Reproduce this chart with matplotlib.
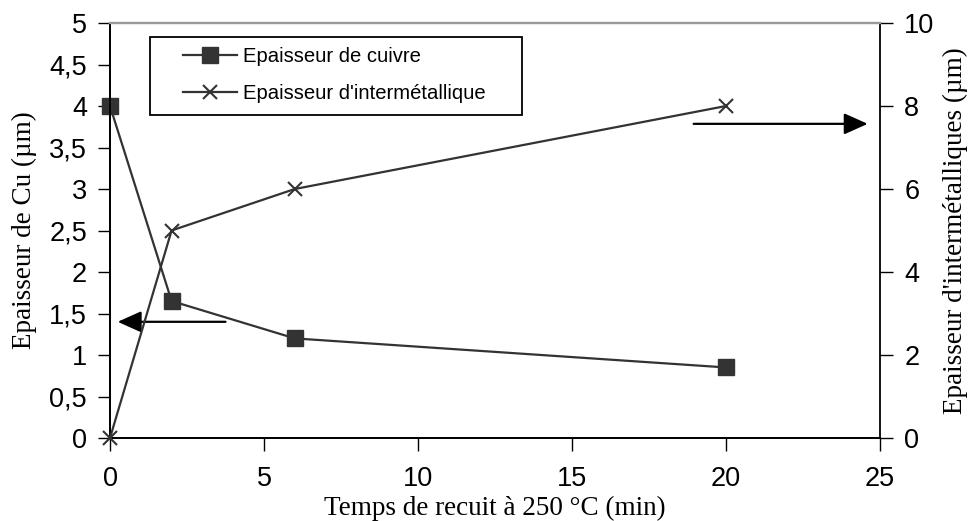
import matplotlib
matplotlib.use("Agg")
import matplotlib.pyplot as plt
from matplotlib.patches import Rectangle
from matplotlib.ticker import FuncFormatter, MultipleLocator

# Annealing time (min) and measured thicknesses
temps = [0, 2, 6, 20]
cuivre = [4, 1.65, 1.2, 0.85]
intermetallique = [0, 5, 6, 8]

# Arrow endpoints (x in min, y in each axis' units)
fleche_cu = ((3.75, 1.4), (0.25, 1.4))
fleche_imc = ((18.95, 7.57), (24.6, 7.57))

sans = "Liberation Sans"
serif = "Liberation Serif"
col = "#333333"

W, H = 974, 521
L, R, T, B = 110, 880, 23, 438

fig = plt.figure(figsize=(W / 100, H / 100), dpi=100)
ax = fig.add_axes([L / W, 1 - B / H, (R - L) / W, (B - T) / H])
ax2 = ax.twinx()

comma = FuncFormatter(lambda v, p: ("%g" % v).replace(".", ","))

l1, = ax.plot(temps, cuivre, color=col, lw=1.6, marker="s", ms=11, mfc=col, mec=col,
              label="Epaisseur de cuivre", clip_on=False, zorder=5)
l2, = ax2.plot(temps, intermetallique, color=col, lw=1.6, marker="x", ms=10.5, mew=1.5,
               label="Epaisseur d'intermétallique", clip_on=False, zorder=5)

ax.set_xlim(0, 25)
ax.set_ylim(0, 5)
ax2.set_ylim(0, 10)
ax.xaxis.set_major_locator(MultipleLocator(5))
ax.yaxis.set_major_locator(MultipleLocator(0.5))
ax2.yaxis.set_major_locator(MultipleLocator(2))
ax.yaxis.set_major_formatter(comma)

for a in (ax, ax2):
    for s in a.spines.values():
        s.set_color("black")
        s.set_linewidth(1.3)
    a.spines["top"].set_color("#9a9a9a")
    a.spines["top"].set_linewidth(1.6)
    a.tick_params(direction="out", length=9, width=1, colors="black",
                  labelsize=19.5)
    for lab in a.get_yticklabels() + a.get_xticklabels():
        lab.set_fontfamily(sans)
ax.tick_params(axis="x", pad=11)
ax.tick_params(axis="y", pad=7.5)
ax2.tick_params(axis="y", pad=8.5)
ax.spines["right"].set_visible(False)

ax.set_xlabel("Temps de recuit à 250 °C (min)", fontfamily=serif, fontsize=19.5, labelpad=3)
ax.set_ylabel("Epaisseur de Cu (µm)", fontfamily=serif, fontsize=19.5, labelpad=9)
ax2.set_ylabel("Epaisseur d'intermétalliques (µm)", fontfamily=serif, fontsize=19.5, labelpad=6)

head = "-|>,head_length=1.45,head_width=0.65"
ax.annotate("", xy=fleche_cu[1], xytext=fleche_cu[0],
            arrowprops=dict(arrowstyle=head, color="black", lw=1.6, shrinkA=0, shrinkB=0))
ax2.annotate("", xy=fleche_imc[1], xytext=fleche_imc[0],
             arrowprops=dict(arrowstyle=head, color="black", lw=1.6, shrinkA=0, shrinkB=0))

# Legend box drawn as its own patch, entries placed inside without frame
box = Rectangle((150 / W, 1 - 115 / H), (522 - 150) / W, (115 - 37) / H,
                transform=fig.transFigure, facecolor="white",
                edgecolor="black", lw=1.3, zorder=9, clip_on=False)
ax2.add_patch(box)
leg = ax2.legend([l1, l2], [l1.get_label(), l2.get_label()], loc="upper left",
                 bbox_to_anchor=(183 / W, 1 - 47 / H), bbox_transform=fig.transFigure,
                 prop={"family": sans, "size": 14.6}, frameon=False,
                 handlelength=2.66, borderpad=0, labelspacing=0.87,
                 handletextpad=0.3, borderaxespad=0)
leg.set_zorder(10)

fig.savefig("out.png", dpi=100)
